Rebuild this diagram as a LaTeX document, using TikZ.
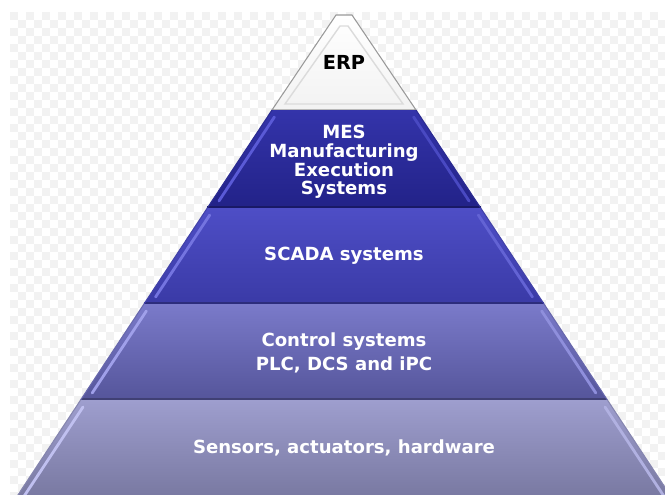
\documentclass[tikz,border=0pt]{standalone}
\usepackage{fontspec}
\setsansfont{DejaVu Sans}
\usepackage{xcolor}

\definecolor{mesTop}{HTML}{3434AA}
\definecolor{mesBot}{HTML}{222288}
\definecolor{mesHi}{HTML}{5A5AD6}
\definecolor{scTop}{HTML}{4E4EC6}
\definecolor{scBot}{HTML}{3A3AA6}
\definecolor{scHi}{HTML}{7474E0}
\definecolor{ctTop}{HTML}{7A7ACA}
\definecolor{ctBot}{HTML}{55559A}
\definecolor{ctHi}{HTML}{A0A0EA}
\definecolor{seTop}{HTML}{9E9ECE}
\definecolor{seBot}{HTML}{76769E}
\definecolor{seHi}{HTML}{C0C0F0}

\begin{document}
\begin{tikzpicture}[
    x=0.02cm, y=-0.02cm,
    checker/.style={fill=black!5},
    bevel/.style={line width=1.6, line cap=round},
    lvl/.style={text=white, align=center, font={\fontsize{10.3}{10.6}\sffamily\bfseries\selectfont}},
    tip/.style={lvl, text=black, font={\fontsize{11}{12}\sffamily\bfseries\selectfont}}
]

\useasboundingbox (0,0) rectangle (665,494);
\clip (0,0) rectangle (665,494);

% Background checkerboard
\foreach \x in {10,26,...,665} {
  \foreach \y in {12,28,...,494} {
    \fill[checker] (\x,\y) rectangle ++(8,8);
    \fill[checker] (\x+8,\y+8) rectangle ++(8,8);
  }
}

% Apex
\shade[top color=white, bottom color=black!5, draw=black!40, line width=0.6]
  (336,15) -- (352,15) -- (416,110) -- (272,110) -- cycle;
\draw[black!14, line width=0.8] (340,26) -- (348,26) -- (403,104) -- (285,104) -- cycle;

% Layers
\foreach \yt/\yb/\ct/\cb/\hl in {110/208/mesTop/mesBot/mesHi, 208/304/scTop/scBot/scHi,
    304/400/ctTop/ctBot/ctHi, 400/504/seTop/seBot/seHi} {
  \pgfmathsetmacro\wtop{72+0.66*(\yt-110)}
  \pgfmathsetmacro\wbot{72+0.66*(\yb-110)}
  \shade[top color=\ct, bottom color=\cb]
    (344-\wtop,\yt) -- (344+\wtop,\yt) -- (344+\wbot,\yb) -- (344-\wbot,\yb) -- cycle;
  \draw[\cb!75!black, line width=1.2] (344-\wbot,\yb-0.6) -- (344+\wbot,\yb-0.6);
  \draw[\ct!85!black, line width=0.6] (344-\wtop,\yt) -- (344-\wbot,\yb);
  \draw[\ct!85!black, line width=0.6] (344+\wtop,\yt) -- (344+\wbot,\yb);
  \draw[bevel, \hl] (344-\wtop+2.4,\yt+7) -- (344-\wbot+11.6,\yb-7);
  \draw[bevel, \hl!55!\ct] (344+\wtop-2.4,\yt+7) -- (344+\wbot-11.6,\yb-7);
}

% Labels
\node[tip] (erp) at (344,62) {ERP};
\node[lvl] (mes) at (344,162) {MES\\Manufacturing\\Execution\\Systems};
\node[lvl] (scada) at (344,256) {SCADA systems};
\node[lvl] (control) at (344,353) {Control systems\\[3pt]PLC, DCS and iPC};
\node[lvl] (sensors) at (344,448) {Sensors, actuators, hardware};

\end{tikzpicture}
\end{document}
